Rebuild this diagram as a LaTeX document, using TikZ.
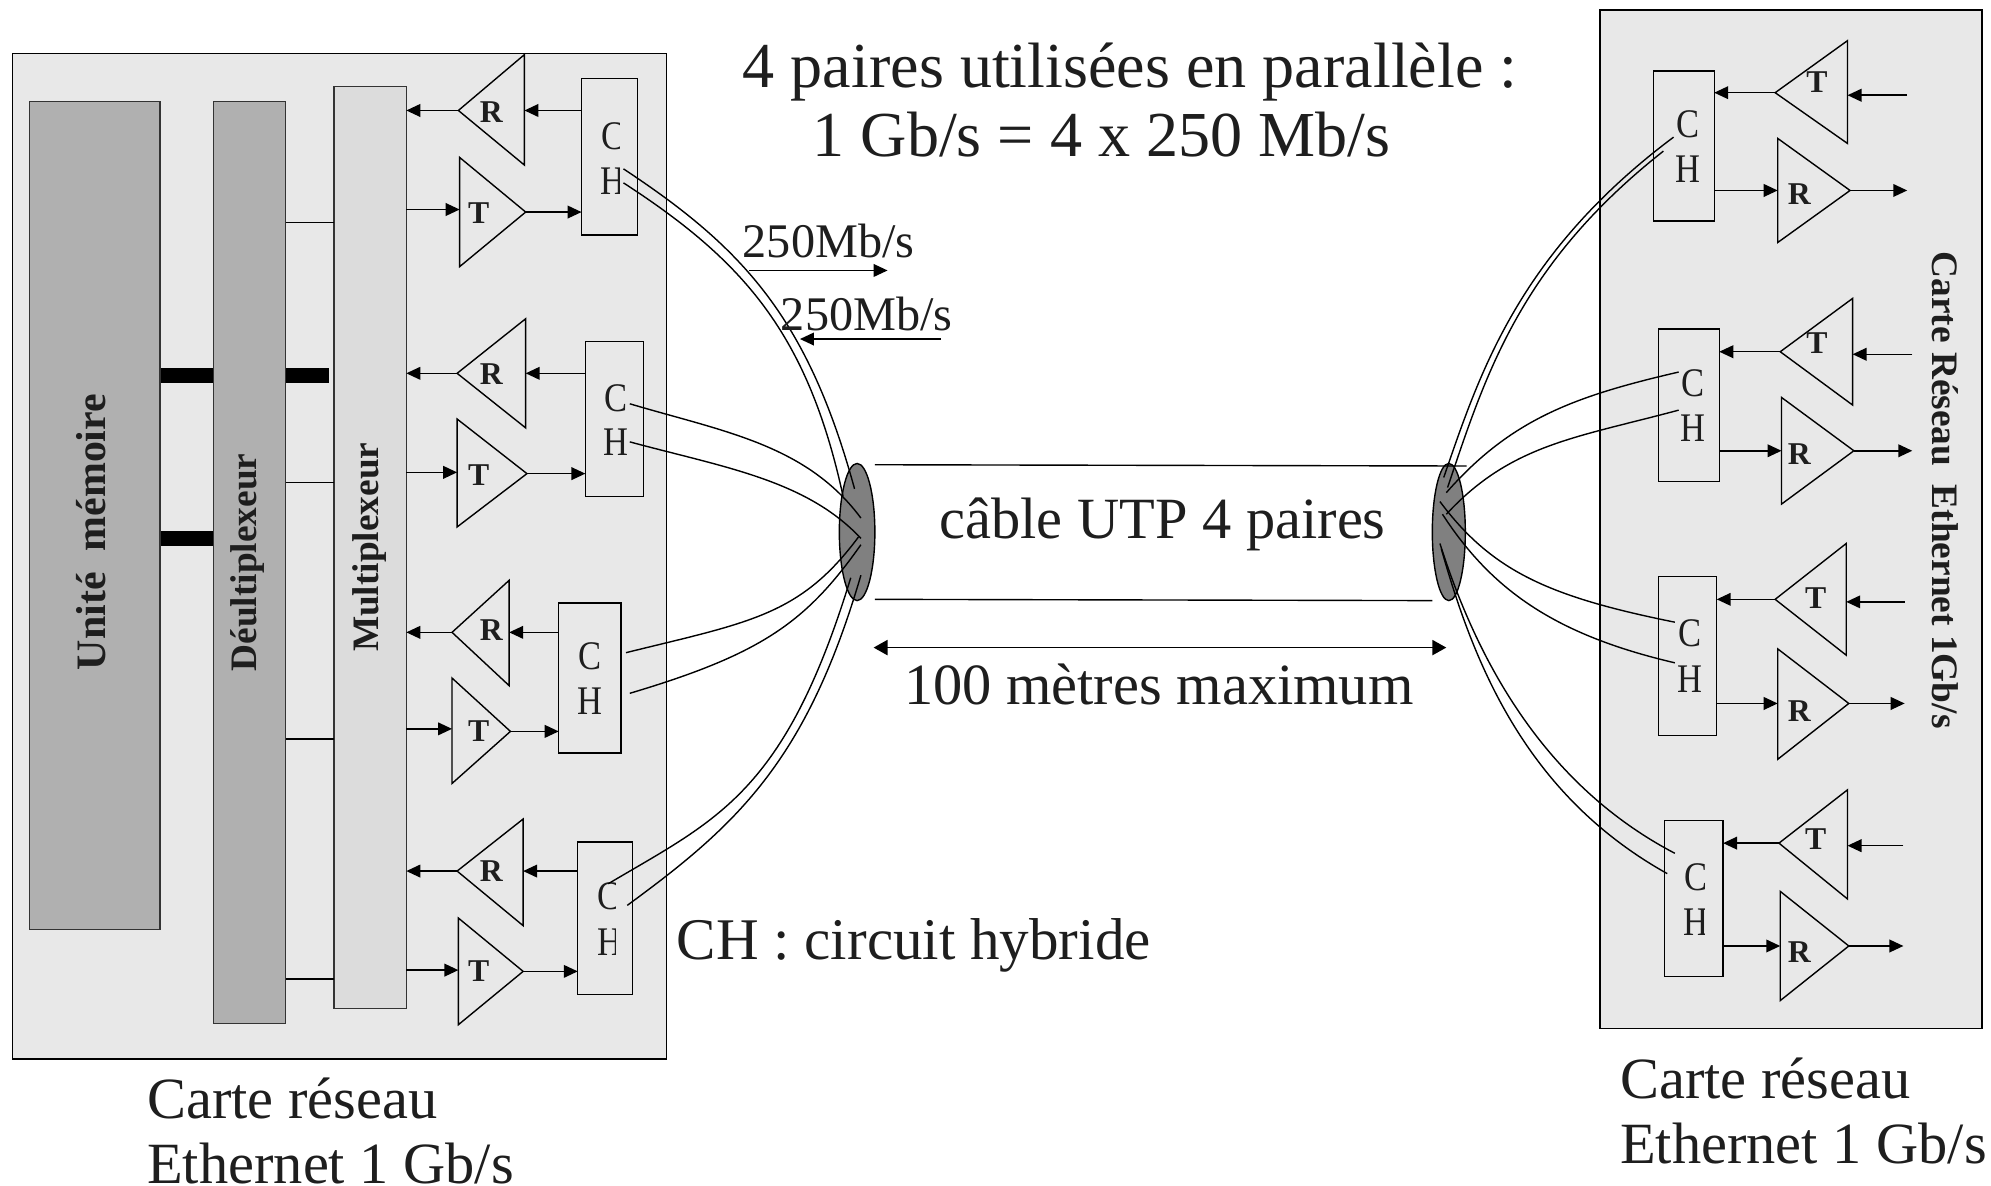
\documentclass[tikz,border=0pt]{standalone}
\usepackage{fontspec}
\setmainfont{Liberation Serif}
\usetikzlibrary{arrows.meta,shapes.geometric}
\definecolor{cardfill}{HTML}{E8E8E8}
\definecolor{barfill}{HTML}{B0B0B0}
\definecolor{muxfill}{HTML}{DCDCDC}
\definecolor{ellfill}{HTML}{808080}
\definecolor{ink}{HTML}{1E1E1E}
\tikzset{
  x=1pt,y=-1pt,
  every node/.style={text=ink,inner sep=0pt,outer sep=0pt},
  ln/.style={draw=black,line width=1.1pt},
  wire/.style={draw=black,line width=1.1pt},
  arr/.style={draw=black,line width=1.2pt,-{Triangle[length=11pt,width=10pt]}},
  card/.style={draw=black,line width=1.2pt,fill=cardfill},
  vbar/.style={draw=black!80,line width=1pt,anchor=center},
  chbox/.style={draw=black,line width=1.1pt,fill=cardfill},
  tri/.style={draw=black,line width=1.1pt,fill=cardfill,line join=miter},
  title/.style={font=\fontsize{50.5}{50.5}\selectfont,anchor=base west},
  big/.style={font=\fontsize{46}{46}\selectfont,anchor=base west},
  mid/.style={font=\fontsize{38}{38}\selectfont,anchor=base west},
  chl/.style={font=\fontsize{32}{32}\selectfont,xscale=.85},
  amp/.style={font=\bfseries\fontsize{25}{25}\selectfont},
  vtx/.style={font=\bfseries\fontsize{29.4}{29.4}\selectfont},
}
\begin{document}
\begin{tikzpicture}
\useasboundingbox (0,0) rectangle (1568,934);
\path[fill=white] (0,0) rectangle (1568,934);
% cards
\node[card,minimum width=515pt,minimum height=792pt] (lcard) at (267.5,438) {};
\node[card,minimum width=301pt,minimum height=802pt] (rcard) at (1410.5,409) {};
% thick bars
\node[fill=black,minimum width=41pt,minimum height=12pt] (b1) at (147.5,296) {};
\node[fill=black,minimum width=34pt,minimum height=12pt] (b2) at (242,296) {};
\node[fill=black,minimum width=41pt,minimum height=12pt] (b3) at (147.5,424) {};
% columns
\node[vbar,fill=barfill,minimum width=103pt,minimum height=652pt] (mem) at (74.5,406) {};
\node[vbar,fill=barfill,minimum width=57pt,minimum height=726pt] (demux) at (196.5,443) {};
\node[vbar,fill=muxfill,minimum width=57pt,minimum height=726pt] (mux) at (291.5,431) {};
\node[rotate=90,font=\bfseries\fontsize{33}{33}\selectfont] (memt) at (72,419) {Unité\hspace{0.5em}mémoire};
\node[rotate=90,vtx] (demt) at (195,443) {Déultiplexeur};
\node[rotate=90,vtx] (muxt) at (291,431) {Multiplexeur};
\foreach \Y in {175,380,582,771}{
  \draw[ln] (demux.east |- 0,\Y) -- (mux.west |- 0,\Y);
}
% left units
\foreach \Id/\Rx/\Ry/\Rb/\Rt/\Rd/\Tb/\Tt/\Td/\Tx/\Ty/\Ly/\Bl/\Bt/\Br/\Bb in {
  1/361/87/413/43/130/362/124/210/414/167/165/458/62/502/185,
  2/360/294/414/251/337/360/330/415/415/373/372/461/269/507/391,
  3/356/498/401/457/540/356/534/617/402/576/574/440/475/489/593,
  4/360/686/412/645/729/361/723/807/412/765/764/455/663/498/783}{
  \node[chbox,minimum width={(\Br-\Bl)*1pt},minimum height={(\Bb-\Bt)*1pt}] (ch\Id) at ({(\Bl+\Br)/2},{(\Bt+\Bb)/2}) {};
  \coordinate (rtip\Id) at (\Rx,\Ry);
  \coordinate (rin\Id) at (\Rb,\Ry);
  \coordinate (tin\Id) at (\Tb,\Ly);
  \coordinate (ttip\Id) at (\Tx,\Ty);
  \draw[tri] (rtip\Id) -- (\Rb,\Rt) -- (\Rb,\Rd) -- cycle;
  \draw[tri] (\Tb,\Tt) -- (\Tb,\Td) -- (ttip\Id) -- cycle;
  \draw[arr] (ch\Id.west |- rin\Id) -- (rin\Id);
  \draw[arr] (rtip\Id) -- (rtip\Id -| mux.east);
  \draw[arr] (tin\Id -| mux.east) -- (tin\Id);
  \draw[arr] (ttip\Id) -- (ttip\Id -| ch\Id.west);
}
\node[amp] (r1) at (387,88) {R}; \node[amp] (t1) at (377,168) {T};
\node[amp] (r2) at (387,295) {R}; \node[amp] (t2) at (377,374) {T};
\node[amp] (r3) at (387,496) {R}; \node[amp] (t3) at (377,576) {T};
\node[amp] (r4) at (387,686) {R}; \node[amp] (t4) at (377,765) {T};
% left CH letters
\begin{scope}
  \clip (459,63) rectangle (488,184);
  \node[chl] (c1) at (483,107) {C};
  \node[chl] (h1) at (483,143) {H};
\end{scope}
\node[chl] (c2) at (485,314) {C}; \node[chl] (h2) at (485,348) {H};
\node[chl] (c3) at (465,517) {C}; \node[chl] (h3) at (465,552) {H};
\begin{scope}
  \clip (456,664) rectangle (484.5,782);
  \node[chl] (c4) at (480,706) {C};
  \node[chl] (h4) at (480,742) {H};
\end{scope}
% right units
\foreach \Id/\Tx/\Ty/\Tb/\Tt/\Td/\Ex/\Ey/\Rb/\Rt/\Rd/\Rx/\Ry/\Bl/\Bt/\Br/\Bb in {
  5/1398/73/1455/32/113/1502/75/1400/109/191/1457/150/1302/56/1350/174,
  6/1402/277/1459/235/319/1506/279/1403/313/397/1460/355/1306/259/1354/379,
  7/1398/472/1454/428/516/1500/474/1400/511/598/1456/554/1306/454/1352/579,
  8/1401/664/1455/622/708/1499/666/1402/702/788/1456/745/1311/646/1357/769}{
  \node[chbox,minimum width={(\Br-\Bl)*1pt},minimum height={(\Bb-\Bt)*1pt}] (ch\Id) at ({(\Bl+\Br)/2},{(\Bt+\Bb)/2}) {};
  \coordinate (ttip\Id) at (\Tx,\Ty);
  \coordinate (tin\Id) at (\Tb,\Ey);
  \coordinate (tsrc\Id) at (\Ex,\Ey);
  \coordinate (rin\Id) at (\Rb,\Ry);
  \coordinate (rtip\Id) at (\Rx,\Ry);
  \coordinate (rout\Id) at (\Ex,\Ry);
  \draw[tri] (ttip\Id) -- (\Tb,\Tt) -- (\Tb,\Td) -- cycle;
  \draw[tri] (\Rb,\Rt) -- (\Rb,\Rd) -- (rtip\Id) -- cycle;
  \draw[arr] (ttip\Id) -- (ttip\Id -| ch\Id.east);
  \draw[arr] (tsrc\Id) -- (tin\Id);
  \draw[arr] (ch\Id.east |- rin\Id) -- (rin\Id);
  \draw[arr] (rtip\Id) -- (rout\Id);
}
\foreach \Id/\Cx/\Cy/\Hy/\Tlx/\Tly/\Rly in {
  5/1329.5/98/133/1431/65/153,
  6/1333/302/337/1431/270/358,
  7/1331/499/535/1430/471/560}{
  \node[chl] (c\Id) at (\Cx,\Cy) {C};
  \node[chl] (h\Id) at (\Cx,\Hy) {H};
  \node[amp] (t\Id) at (\Tlx,\Tly) {T};
  \node[amp] (r\Id) at (1417,\Rly) {R};
}
\begin{scope}
  \clip (1312,647) rectangle (1342,768);
  \node[chl] (c8) at (1336,691) {C};
  \node[chl] (h8) at (1336,726) {H};
\end{scope}
\node[amp] (t8) at (1430,661) {T};
\node[amp] (r8) at (1417,750) {R};
\node[rotate=-90,vtx] (rtitle) at (1532,386) {Carte Réseau\hspace{0.5em}Ethernet 1Gb/s};
% cable
\node[ellipse,draw=black,line width=1.1pt,fill=ellfill,minimum width=28pt,minimum height=108pt] (el) at (675,419) {};
\node[ellipse,draw=black,line width=1.1pt,fill=ellfill,minimum width=26pt,minimum height=108pt] (er) at (1141,419) {};
\coordinate (ct1) at (689,366); \coordinate (ct2) at (1155,367);
\coordinate (cb1) at (689,472); \coordinate (cb2) at (1128,473);
\draw[ln] (ct1) -- (ct2);
\draw[ln] (cb1) -- (cb2);
\coordinate (dl) at (688,510); \coordinate (dr) at (1139,510);
\draw[draw=black,line width=1.2pt,{Triangle[length=11pt,width=12pt]}-{Triangle[length=11pt,width=12pt]}] (dl) -- (dr);
% wires left
\coordinate (w1a) at (491,133); \coordinate (w1b) at (491,144);
\coordinate (w2a) at (496,318); \coordinate (w2b) at (496,348);
\coordinate (w3a) at (493,514); \coordinate (w3b) at (496,546);
\coordinate (w4a) at (479,696); \coordinate (w4b) at (494,713);
\draw[wire] (w1a) .. controls (585,195) and (636,250) .. (673,385);
\draw[wire] (w1b) .. controls (585,205) and (636,262) .. (664,391);
\draw[wire] (w2a) .. controls (570,340) and (635,350) .. (678,408);
\draw[wire] (w2b) .. controls (570,368) and (635,378) .. (678,424);
\draw[wire] (w3a) .. controls (590,490) and (630,485) .. (676,423);
\draw[wire] (w3b) .. controls (600,515) and (635,490) .. (678,429);
\draw[wire] (w4a) .. controls (565,645) and (618,625) .. (670,455);
\draw[wire] (w4b) .. controls (580,650) and (635,600) .. (678,453);
% wires right
\coordinate (w5a) at (1318,108); \coordinate (w5b) at (1310,119);
\coordinate (w6a) at (1322,293); \coordinate (w6b) at (1322,323);
\coordinate (w7a) at (1319,490); \coordinate (w7b) at (1319,522);
\coordinate (w8a) at (1319,672); \coordinate (w8b) at (1313,688);
\draw[wire] (w5a) .. controls (1195,200) and (1165,295) .. (1137,376);
\draw[wire] (w5b) .. controls (1197,208) and (1170,295) .. (1140,384);
\draw[wire] (w6a) .. controls (1240,312) and (1190,330) .. (1139,388);
\draw[wire] (w6b) .. controls (1240,345) and (1190,350) .. (1139,405);
\draw[wire] (w7a) .. controls (1220,470) and (1175,450) .. (1134,395);
\draw[wire] (w7b) .. controls (1225,500) and (1175,465) .. (1136,405);
\draw[wire] (w8a) .. controls (1210,615) and (1160,510) .. (1134,428);
\draw[wire] (w8b) .. controls (1200,625) and (1160,520) .. (1135,432);
% texts
\node[title] (title1) at (585,69) {4 paires utilisées en parallèle :};
\node[title] (title2) at (640,123) {1 Gb/s = 4 x 250 Mb/s};
\node[mid] (s1) at (585,203) {250Mb/s};
\node[mid] (s2) at (615,260) {250Mb/s};
\coordinate (s1a) at (590,213); \coordinate (s1b) at (699,213);
\coordinate (s2a) at (741,267); \coordinate (s2b) at (630,267);
\draw[arr] (s1a) -- (s1b);
\draw[arr] (s2a) -- (s2b);
\node[big] (utp) at (740,424) {câble UTP 4 paires};
\node[big] (len) at (712,555) {100 mètres maximum};
\node[big,font=\fontsize{46.5}{46.5}\selectfont] (hyb) at (533,756) {CH : circuit hybride};
\node[big] (lc1) at (116,881) {Carte réseau};
\node[big] (lc2) at (116,932) {Ethernet 1 Gb/s};
\node[big] (rc1) at (1276,865) {Carte réseau};
\node[big] (rc2) at (1276,916) {Ethernet 1 Gb/s};
\end{tikzpicture}
\end{document}
